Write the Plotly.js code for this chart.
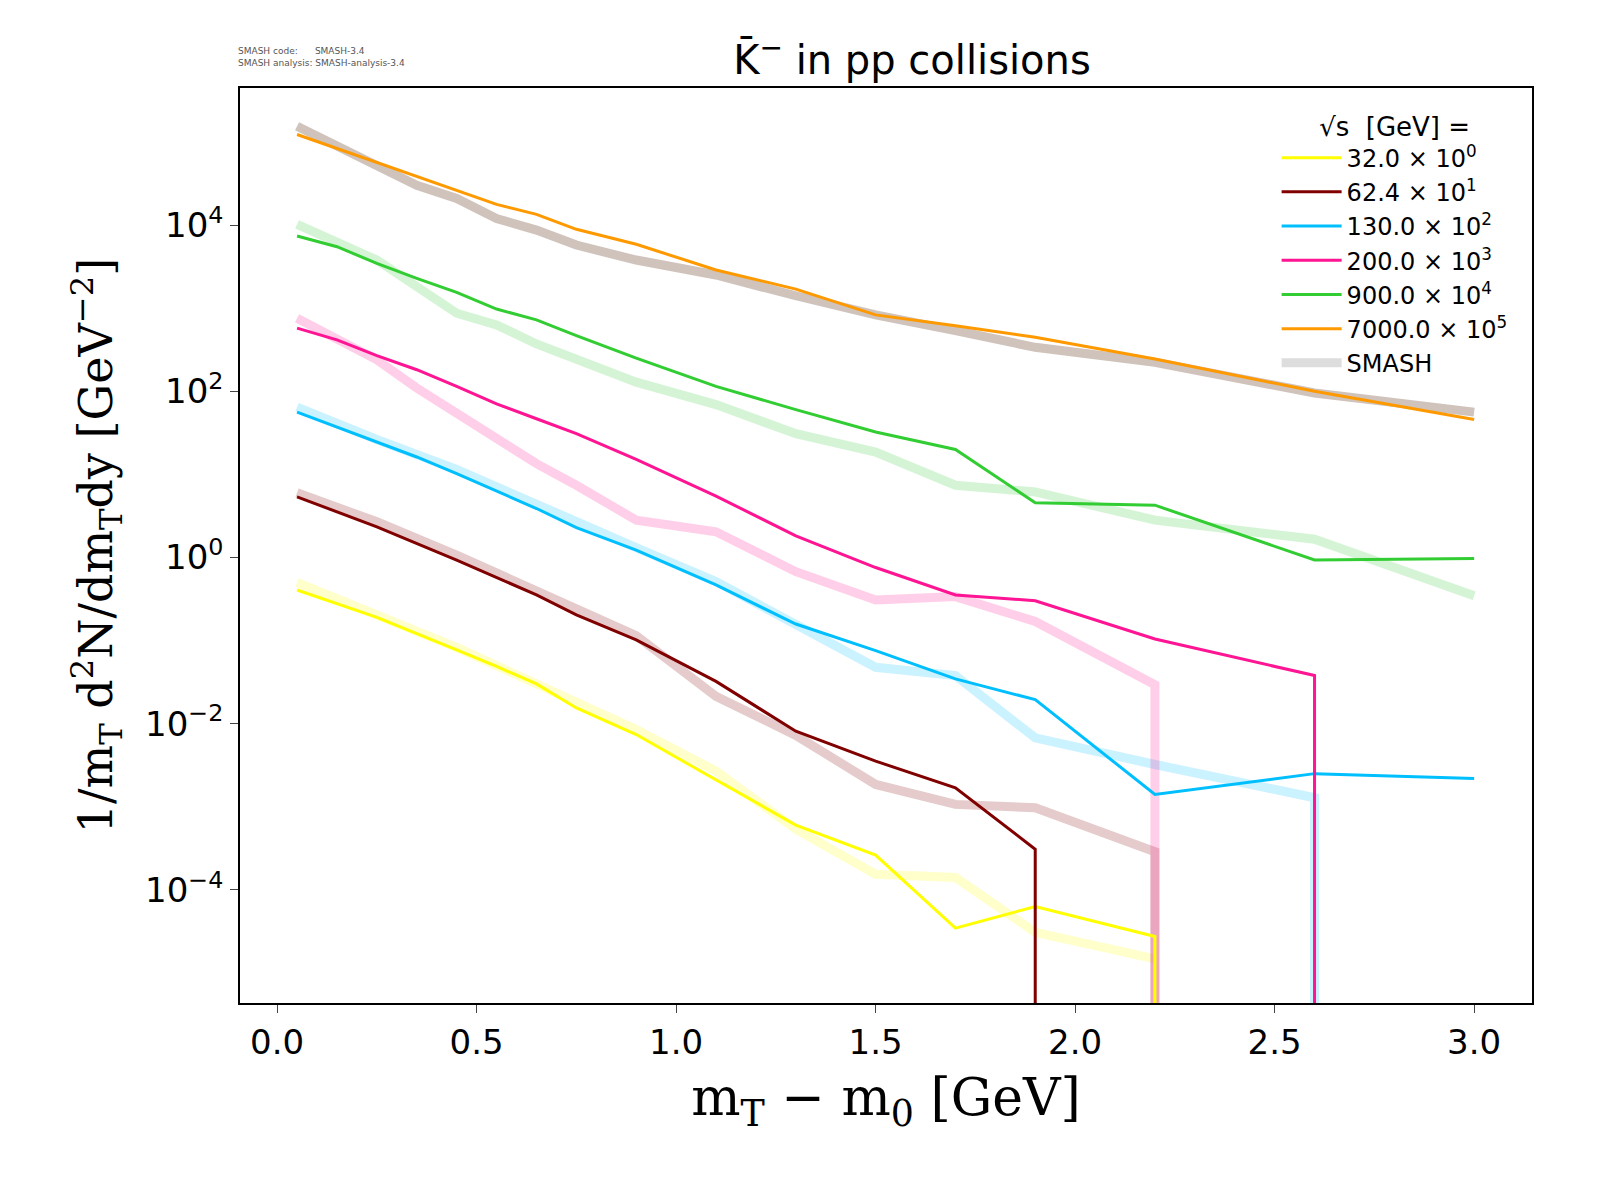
<!DOCTYPE html><html><head><script src="https://cdn.plot.ly/plotly-3.0.1.min.js"></script></head><body style="margin:0;overflow:hidden"><div id="c" style="width:1600px;height:1200px"></div><script>
// values stored as log10; a -12 entry marks the drop to zero
const yelX=[0.05,0.25,0.45,0.55,0.65,0.75,0.9,1.1,1.3,1.5,1.7,1.9,2.2,2.2];
const yelLog=[-0.39,-0.72,-1.11,-1.31,-1.52,-1.81,-2.13,-2.67,-3.22,-3.58,-4.46,-4.20,-4.56,-12];
const yelSX=[0.05,0.45,0.9,1.1,1.3,1.5,1.7,1.9,2.2];
const yelSLog=[-0.30,-1.08,-2.07,-2.57,-3.27,-3.81,-3.85,-4.51,-4.83];
const brX=[0.05,0.25,0.45,0.65,0.75,0.9,1.1,1.3,1.5,1.7,1.9,1.9];
const brLog=[0.73,0.37,-0.03,-0.45,-0.69,-0.99,-1.49,-2.09,-2.45,-2.77,-3.51,-12];
const brSX=[0.05,0.25,0.45,0.65,0.9,1.1,1.3,1.5,1.7,1.9,2.2,2.2];
const brSLog=[0.78,0.43,0.03,-0.39,-0.94,-1.67,-2.14,-2.73,-2.97,-3.01,-3.54,-12];
const blX=[0.05,0.15,0.25,0.35,0.45,0.55,0.65,0.75,0.9,1.1,1.3,1.5,1.7,1.9,2.2,2.6,3.0];
const blLog=[1.75,1.57,1.39,1.21,1.01,0.80,0.59,0.36,0.09,-0.33,-0.80,-1.12,-1.46,-1.71,-2.85,-2.60,-2.66];
const blSX=[0.05,0.25,0.45,0.65,0.9,1.1,1.3,1.5,1.7,1.9,2.2,2.6,2.6];
const blSLog=[1.81,1.42,1.06,0.63,0.12,-0.29,-0.81,-1.32,-1.42,-2.17,-2.49,-2.89,-12];
const pkX=[0.05,0.15,0.25,0.35,0.45,0.55,0.65,0.75,0.9,1.1,1.3,1.5,1.7,1.9,2.2,2.6,2.6];
const pkLog=[2.76,2.62,2.43,2.26,2.06,1.85,1.67,1.49,1.18,0.74,0.26,-0.12,-0.45,-0.52,-0.98,-1.42,-12];
const pkSX=[0.05,0.25,0.35,0.45,0.55,0.65,0.75,0.9,1.1,1.3,1.5,1.7,1.9,2.2,2.2];
const pkSLog=[2.88,2.38,2.04,1.73,1.45,1.13,0.87,0.45,0.31,-0.17,-0.51,-0.47,-0.77,-1.53,-12];
const grX=[0.05,0.15,0.25,0.35,0.45,0.55,0.65,0.75,0.9,1.1,1.3,1.5,1.7,1.9,2.2,2.6,3.0];
const grLog=[3.87,3.74,3.54,3.36,3.19,2.99,2.86,2.67,2.40,2.06,1.78,1.51,1.30,0.66,0.63,-0.03,-0.01];
const grSX=[0.05,0.25,0.45,0.55,0.65,0.75,0.9,1.1,1.3,1.5,1.7,1.9,2.2,2.6,3.0];
const grSLog=[4.01,3.58,2.94,2.80,2.57,2.38,2.11,1.84,1.49,1.27,0.87,0.79,0.45,0.22,-0.46];
const orX=[0.05,0.35,0.45,0.55,0.65,0.75,0.9,1.1,1.3,1.5,1.7,1.9,2.2,2.6,3.0];
const orLog=[5.09,4.59,4.42,4.25,4.13,3.95,3.77,3.46,3.23,2.92,2.79,2.65,2.39,2.0,1.66];
const orSX=[0.05,0.35,0.45,0.55,0.65,0.75,0.9,1.1,1.3,1.5,1.7,1.9,2.2,2.6,3.0];
const orSLog=[5.19,4.48,4.32,4.08,3.94,3.76,3.58,3.40,3.15,2.92,2.73,2.53,2.35,1.98,1.75];
const series=[
 ["32.0 × 10<sup>0</sup>","#ffff00",yelX,yelLog,yelSX,yelSLog,"#ffff00",0.2],
 ["62.4 × 10<sup>1</sup>","#800000",brX,brLog,brSX,brSLog,"#800000",0.2],
 ["130.0 × 10<sup>2</sup>","#00bfff",blX,blLog,blSX,blSLog,"#00bfff",0.2],
 ["200.0 × 10<sup>3</sup>","#ff1493",pkX,pkLog,pkSX,pkSLog,"#ff1493",0.2],
 ["900.0 × 10<sup>4</sup>","#32cd32",grX,grLog,grSX,grSLog,"#32cd32",0.2],
 ["7000.0 × 10<sup>5</sup>","#ff9900",orX,orLog,orSX,orSLog,"#8a6a5a",0.4]];
const p=a=>a.map(v=>Math.pow(10,v));
const traces=[];
series.forEach(s=>{
 traces.push({x:s[4],y:p(s[5]),mode:'lines',line:{color:s[6],width:9},opacity:s[7],showlegend:false,hoverinfo:'skip'});
});
series.forEach(s=>{
 traces.push({x:s[2],y:p(s[3]),mode:'lines',line:{color:s[1],width:3},name:s[0]});
});
traces.push({x:[null],y:[null],mode:'lines',line:{color:'#dddddd',width:9},name:'SMASH'});
const ytv=[1e-4,1e-2,1,1e2,1e4];
Plotly.newPlot('c',traces,{
 width:1600,height:1200,margin:{l:240,r:68,t:88,b:197},
 paper_bgcolor:'white',plot_bgcolor:'white',
 font:{family:'DejaVu Sans',color:'black'},
 title:{text:'K̄<sup>−</sup> in pp collisions',font:{size:40},x:0.57,y:0.95,xanchor:'center',yanchor:'middle'},
 xaxis:{range:[-0.093,3.145],tickvals:[0,0.5,1,1.5,2,2.5,3],ticktext:['0.0','0.5','1.0','1.5','2.0','2.5','3.0'],
  ticks:'outside',ticklen:8,tickfont:{size:34},showline:true,mirror:true,linecolor:'black',linewidth:1.5,showgrid:false,zeroline:false,
  title:{text:'m<sub>T</sub> − m<sub>0</sub> [GeV]',font:{size:52,family:'DejaVu Serif'},standoff:18}},
 yaxis:{type:'log',range:[-5.36,5.65],tickvals:ytv,ticktext:['10<sup>−4</sup>','10<sup>−2</sup>','10<sup>0</sup>','10<sup>2</sup>','10<sup>4</sup>'],
  ticks:'outside',ticklen:8,tickfont:{size:34},showline:true,mirror:true,linecolor:'black',linewidth:1.5,showgrid:false,zeroline:false,
  title:{text:'1/m<sub>T</sub> d<sup>2</sup>N/dm<sub>T</sub>dy [GeV<sup>−2</sup>]',font:{size:46,family:'DejaVu Serif'},standoff:18}},
 legend:{x:0.985,y:0.985,xanchor:'right',yanchor:'top',bgcolor:'rgba(255,255,255,0)',font:{size:24},itemwidth:60,tracegroupgap:4,
  title:{text:'√s  [GeV] =',font:{size:26},side:'top center'}},
 annotations:[{text:'SMASH code:      SMASH-3.4<br>SMASH analysis: SMASH-analysis-3.4',xref:'paper',yref:'paper',x:-0.003,y:1.02,xanchor:'left',yanchor:'bottom',showarrow:false,align:'left',font:{size:9,color:'#555'}}]
},{displayModeBar:false});
</script></body></html>
